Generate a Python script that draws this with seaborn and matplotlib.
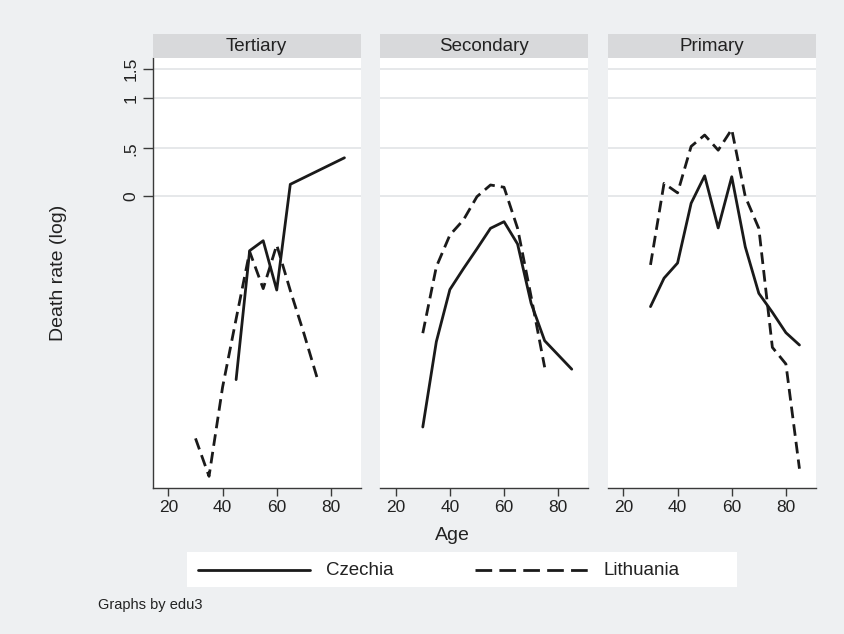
import numpy as np
import pandas as pd
import matplotlib
matplotlib.use("Agg")
import matplotlib.pyplot as plt
import seaborn as sns
from matplotlib.lines import Line2D

# ---------------- data (log death rate) ----------------
panels = ["Tertiary", "Secondary", "Primary"]

ter_cz_age = [45, 50, 55, 60, 65, 85]
ter_cz_val = [-1.94, -0.58, -0.475, -0.995, 0.12, 0.40]
ter_lt_age = [30, 35, 40, 45, 50, 55, 60, 65, 70, 75]
ter_lt_val = [-2.56, -2.96, -2.02, -1.30, -0.59, -0.98, -0.52, -1.00, -1.45, -1.93]

sec_cz_age = [30, 35, 40, 45, 50, 55, 60, 65, 70, 75, 80, 85]
sec_cz_val = [-2.44, -1.54, -0.99, -0.77, -0.56, -0.344, -0.274, -0.51, -1.135, -1.53, -1.68, -1.83]
sec_lt_age = [30, 35, 40, 45, 50, 55, 60, 65, 70, 75]
sec_lt_val = [-1.45, -0.75, -0.415, -0.256, -0.01, 0.113, 0.089, -0.344, -1.065, -1.81]

pri_cz_age = [30, 35, 40, 45, 50, 55, 60, 65, 70, 75, 80, 85]
pri_cz_val = [-1.17, -0.87, -0.71, -0.08, 0.21, -0.34, 0.20, -0.54, -1.03, -1.23, -1.445, -1.575]
pri_lt_age = [30, 35, 40, 45, 50, 55, 60, 65, 70, 75, 80, 85]
pri_lt_val = [-0.73, 0.13, 0.03, 0.52, 0.64, 0.48, 0.70, -0.01, -0.344, -1.60, -1.775, -2.88]

countries = ["Czechia", "Lithuania"]
ytick_pos = [0, 0.5, 1.027, 1.336]
ytick_lab = ["0", ".5", "1", "1.5"]
xticks = [20, 40, 60, 80]

frames = []
for p, (ca, cv, la, lv) in zip(panels, [
        (ter_cz_age, ter_cz_val, ter_lt_age, ter_lt_val),
        (sec_cz_age, sec_cz_val, sec_lt_age, sec_lt_val),
        (pri_cz_age, pri_cz_val, pri_lt_age, pri_lt_val)]):
    frames.append(pd.DataFrame({"edu3": p, "country": "Czechia", "age": ca, "rate": cv}))
    frames.append(pd.DataFrame({"edu3": p, "country": "Lithuania", "age": la, "rate": lv}))
df = pd.concat(frames, ignore_index=True)

# ---------------- style ----------------
sns.set_theme(style="white")
plt.rcParams["font.family"] = ["Liberation Sans", "DejaVu Sans"]
BG = "#eef0f2"
STRIP = "#d8d9db"
GRID = "#e4e6e8"
INK = "#1a1a1a"
TXT = "#222222"
AX = "#3a3a3a"
LW = 2.0
DASH = (4.2, 2.2)
LDASH = (6.0, 2.6)

W, H = 845, 634
fig = plt.figure(figsize=(W / 100, H / 100), dpi=100, facecolor=BG)

def fx(px):
    return px / W

def fy(py):
    return 1 - py / H

lefts = [152.7, 380.0, 607.7]
pw = 208.0
top, bot = 58.0, 487.5
strip_top, strip_bot = 34.0, 57.5

for i, (p, lx) in enumerate(zip(panels, lefts)):
    ax = fig.add_axes([fx(lx), fy(bot), fx(pw), (bot - top) / H])
    ax.set_facecolor("white")
    sub = df[df.edu3 == p]
    sns.lineplot(data=sub, x="age", y="rate", style="country",
                 style_order=countries,
                 dashes={"Czechia": "", "Lithuania": DASH},
                 color=INK, linewidth=LW, legend=False, ax=ax,
                 estimator=None, sort=True)
    ax.set_xlim(14.2, 91)
    ax.set_ylim(-3.078, 1.4525)
    for yv in ytick_pos:
        ax.axhline(yv, color=GRID, lw=1.3, zorder=0)
    ax.set_xticks(xticks)
    ax.set_xticklabels([str(v) for v in xticks], fontsize=12.5, color=TXT)
    ax.tick_params(axis="x", direction="out", length=6, width=1, color=AX, pad=3, bottom=True)
    for s in ["top", "right"]:
        ax.spines[s].set_visible(False)
    ax.spines["bottom"].set_color(AX)
    ax.spines["bottom"].set_linewidth(1.0)
    if i == 0:
        ax.spines["left"].set_color(AX)
        ax.spines["left"].set_linewidth(1.0)
        ax.set_yticks(ytick_pos)
        ax.set_yticklabels(ytick_lab, fontsize=12.5, color=TXT, rotation=90, va="center")
        ax.tick_params(axis="y", direction="out", length=7, width=1, color=AX, pad=3, left=True)
    else:
        ax.spines["left"].set_visible(False)
        ax.set_yticks(ytick_pos)
        ax.set_yticklabels([])
        ax.tick_params(axis="y", length=0)
    ax.set_xlabel("")
    ax.set_ylabel("")
    # strip header
    sax = fig.add_axes([fx(lx), fy(strip_bot), fx(pw), (strip_bot - strip_top) / H])
    sax.set_facecolor(STRIP)
    sax.set_xticks([])
    sax.set_yticks([])
    for s in sax.spines.values():
        s.set_visible(False)
    sax.text(0.5, 0.45, p, ha="center", va="center", fontsize=13.5, color=TXT,
             transform=sax.transAxes)

fig.text(fx(59), fy(273), "Death rate (log)", rotation=90, ha="center", va="center",
         fontsize=14, color=TXT)
fig.text(fx(452), fy(535), "Age", ha="center", va="center", fontsize=14, color=TXT)

# legend box
lax = fig.add_axes([fx(187), fy(587), fx(550), 35 / H])
lax.set_facecolor("white")
lax.set_xlim(187, 737)
lax.set_ylim(0, 1)
lax.set_xticks([])
lax.set_yticks([])
for s in lax.spines.values():
    s.set_visible(False)
lax.add_line(Line2D([198, 310], [0.5, 0.5], color=INK, lw=LW))
lax.add_line(Line2D([475, 588], [0.5, 0.5], color=INK, lw=LW, dashes=LDASH))
lax.text(326, 0.47, countries[0], ha="left", va="center", fontsize=13.5, color=TXT)
lax.text(604, 0.47, countries[1], ha="left", va="center", fontsize=13.5, color=TXT)

fig.text(fx(98), fy(605), "Graphs by edu3", ha="left", va="center", fontsize=10.5, color=TXT)

fig.savefig("out.png", dpi=100, facecolor=BG)
